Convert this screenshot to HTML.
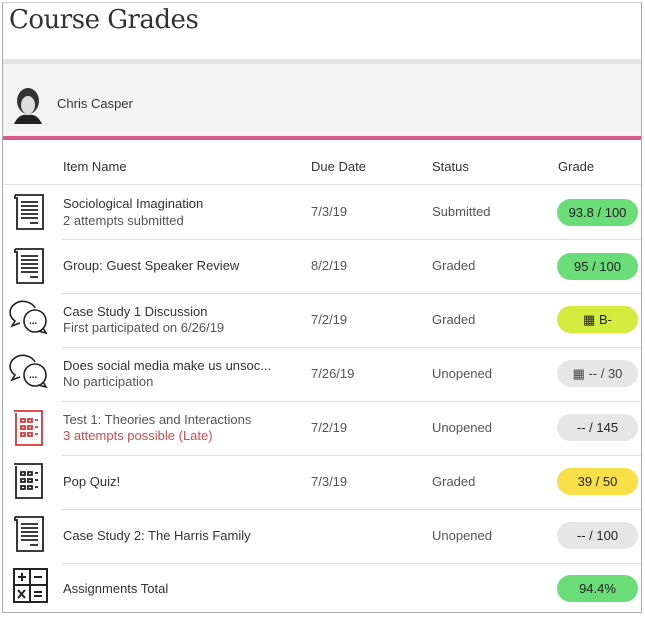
<!DOCTYPE html>
<html><head><style>
*{margin:0;padding:0;box-sizing:border-box}
body{width:645px;height:619px;background:#fff;font-family:"Liberation Sans",sans-serif;position:relative;overflow:hidden;color:#333}
.a{position:absolute}
.frame{left:2px;top:2px;width:640px;height:611px;border:1px solid #aaa;border-top:1px solid #ccc}
h1{position:absolute;left:9px;top:5px;font-family:"DejaVu Serif","Liberation Serif",serif;font-weight:normal;font-size:26px;color:#333;letter-spacing:-0.5px}
.t{font-size:13px;color:#333;white-space:nowrap}
.s{font-size:13px;color:#555}
.sep{left:62px;width:579px;height:1px;background:#ddd}
.pill{left:557px;width:81px;height:27px;border-radius:14px;font-size:13px;text-align:center;line-height:27px;color:#222}
</style></head><body>
<div class="a frame"></div>
<h1>Course Grades</h1>
<div class="a" style="left:3px;top:59px;width:638px;height:5px;background:#e4e4e4"></div>
<div class="a" style="left:3px;top:64px;width:638px;height:72px;background:#f4f4f4"></div>
<div class="a" style="left:3px;top:136px;width:638px;height:4px;background:#dc5a8a"></div>
<svg class="a" style="left:11px;top:84px" width="34" height="40" viewBox="0 0 34 40">
<ellipse cx="17" cy="17" rx="11" ry="13" fill="#333"/><ellipse cx="17" cy="21" rx="7" ry="9" fill="#ddd"/><path d="M3 40 Q8 29 17 31 Q26 29 31 40Z" fill="#222"/></svg>
<div class="a t" style="left:57px;top:96px">Chris Casper</div>
<div class="a t" style="left:63px;top:159px">Item Name</div>
<div class="a t" style="left:311px;top:159px">Due Date</div>
<div class="a t" style="left:432px;top:159px">Status</div>
<div class="a t" style="left:558px;top:159px">Grade</div>
<div class="a" style="left:3px;top:184px;width:638px;height:1px;background:#ddd"></div>
<div class="a sep" style="top:239px"></div><div class="a sep" style="top:293px"></div>
<div class="a sep" style="top:347px"></div><div class="a sep" style="top:401px"></div>
<div class="a sep" style="top:455px"></div><div class="a sep" style="top:509px"></div>
<div class="a sep" style="top:563px"></div>

<div class="a t" style="left:63px;top:196px">Sociological Imagination</div>
<div class="a s" style="left:63px;top:213px">2 attempts submitted</div>
<div class="a s" style="left:311px;top:204px">7/3/19</div><div class="a s" style="left:432px;top:204px">Submitted</div>
<div class="a pill" style="top:199px;background:#6bdd78">93.8 / 100</div>

<div class="a t" style="left:63px;top:258px">Group: Guest Speaker Review</div>
<div class="a s" style="left:311px;top:258px">8/2/19</div><div class="a s" style="left:432px;top:258px">Graded</div>
<div class="a pill" style="top:253px;background:#6bdd78">95 / 100</div>

<div class="a t" style="left:63px;top:304px">Case Study 1 Discussion</div>
<div class="a s" style="left:63px;top:320px">First participated on 6/26/19</div>
<div class="a s" style="left:311px;top:312px">7/2/19</div><div class="a s" style="left:432px;top:312px">Graded</div>
<div class="a pill" style="top:306px;background:#d3ec3d">&#9638; B-</div>

<div class="a t" style="left:63px;top:358px">Does social media make us unsoc...</div>
<div class="a s" style="left:63px;top:374px">No participation</div>
<div class="a s" style="left:311px;top:366px">7/26/19</div><div class="a s" style="left:432px;top:366px">Unopened</div>
<div class="a pill" style="top:360px;background:#e6e6e6;color:#444">&#9638; -- / 30</div>

<div class="a t" style="left:63px;top:412px;color:#555">Test 1: Theories and Interactions</div>
<div class="a s" style="left:63px;top:428px;color:#d0494b">3 attempts possible (Late)</div>
<div class="a s" style="left:311px;top:420px">7/2/19</div><div class="a s" style="left:432px;top:420px">Unopened</div>
<div class="a pill" style="top:414px;background:#e6e6e6">-- / 145</div>

<div class="a t" style="left:63px;top:474px">Pop Quiz!</div>
<div class="a s" style="left:311px;top:474px">7/3/19</div><div class="a s" style="left:432px;top:474px">Graded</div>
<div class="a pill" style="top:468px;background:#f8de47">39 / 50</div>

<div class="a t" style="left:63px;top:528px">Case Study 2: The Harris Family</div>
<div class="a s" style="left:432px;top:528px">Unopened</div>
<div class="a pill" style="top:522px;background:#e6e6e6">-- / 100</div>

<div class="a t" style="left:63px;top:581px">Assignments Total</div>
<div class="a pill" style="top:575px;background:#6bdd78">94.4%</div>

<svg class="a" style="left:0;top:0" width="60" height="619">
<defs>
<g id="doc" fill="none" stroke="#222" stroke-width="1.8"><path d="M3 2h28v34H5V4"/><path d="M3 2v4"/><path d="M9 9h17M9 13h17M9 17h17M9 21h17M9 25h17M18 30h8"/></g>
<g id="chat" fill="none" stroke="#222" stroke-width="1.6"><path d="M24 9a13 11 0 1 0-20 13l-3 5 8-3"/><circle cx="24" cy="22" r="11" fill="#fff"/><path d="M32 29l3 5-8-2"/><text x="18" y="25" font-size="10" font-weight="bold" fill="#222" stroke="none">...</text></g>
<g id="quiz" fill="none" stroke-width="1.8"><path d="M3 2h28v34H5V4"/><path d="M10 10h4v3h-4zM17 10h4v3h-4zM10 17h4v3h-4zM17 17h4v3h-4zM10 24h4v3h-4zM17 24h4v3h-4zM24 11h3M24 18h3M24 25h3"/></g>
</defs>
<use href="#doc" x="12" y="193"/>
<use href="#doc" x="12" y="247"/>
<use href="#chat" x="11" y="299"/>
<use href="#chat" x="11" y="353"/>
<use href="#quiz" x="11" y="409" stroke="#d33"/>
<use href="#quiz" x="11" y="462" stroke="#222"/>
<use href="#doc" x="12" y="515"/>
<g fill="none" stroke="#222" stroke-width="2"><rect x="14" y="569" width="33" height="33"/><path d="M30 569v33M14 585h33M18 577h8M22 573v8M34 577h8M18 590l7 8M25 590l-7 8M34 592h8M34 596h8"/></g>
</svg>
</body></html>
